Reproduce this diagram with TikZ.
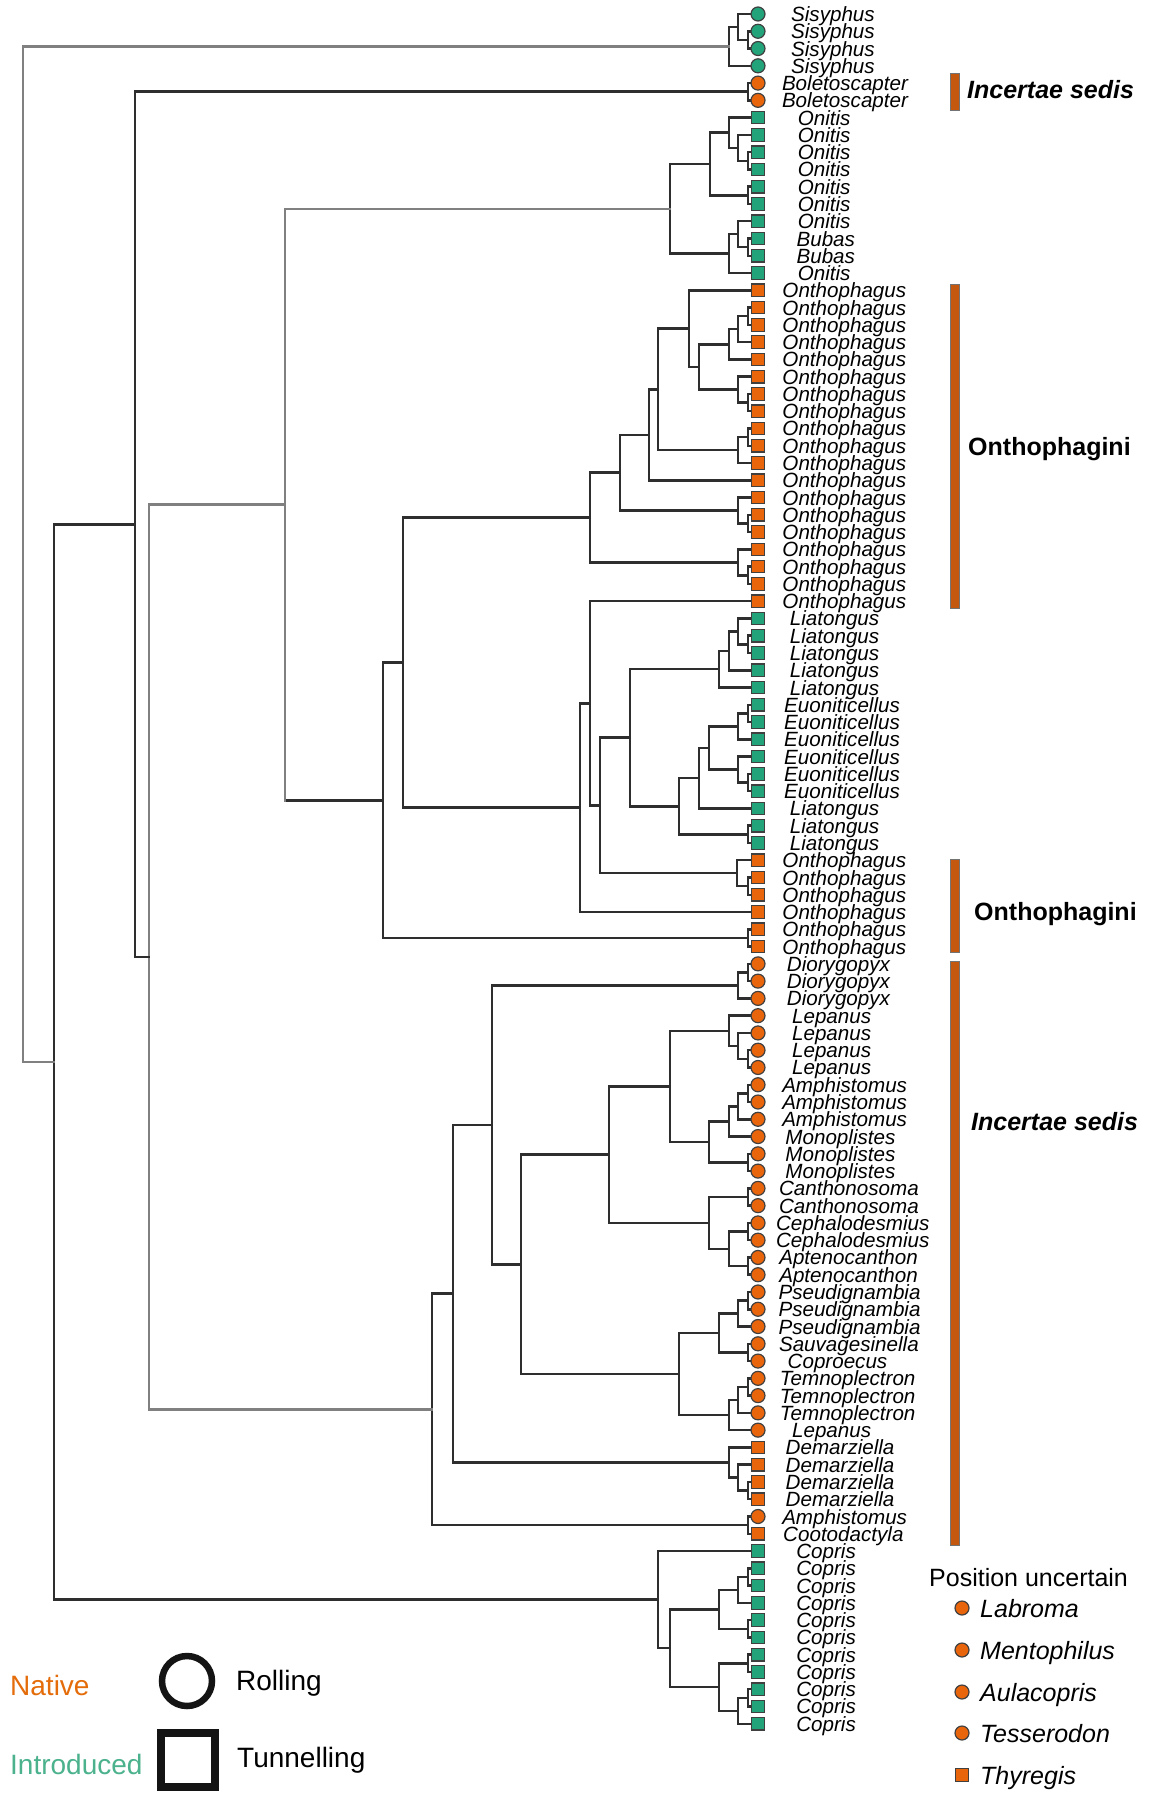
\documentclass[tikz,border=0pt]{standalone}
\usepackage{fontspec}
\setmainfont{Liberation Sans}
\usetikzlibrary{calc}
\definecolor{orng}{HTML}{E8650C}
\definecolor{grn}{HTML}{22A37A}
\definecolor{nattxt}{HTML}{E46C0A}
\definecolor{inttxt}{HTML}{4BB28D}
\definecolor{barc}{HTML}{C4580E}
\newcommand\jns[7]{%
  \path let \p1=($(#3)!.5!(#4)$) in coordinate (#1) at (#2pt,\y1);
  \draw[#5] (#3) -- (#3 -| #1);
  \draw[#6] (#4) -- (#4 -| #1);
  \draw[#7] (#3 -| #1) -- (#4 -| #1);}
\newcommand\jn[5][dk]{\jns{#2}{#3}{#4}{#5}{#1}{#1}{#1}}
\newcommand\tiplab[2]{\node[tl] (L#1) at (809,{14+17.27*(#1-1)+7.5}) {\setbox0=\hbox{#2}\kern-0.216\wd0\box0};}
\newcommand\tipm[2]{\node[#2] (M#1) at (t#1) {};}
\begin{document}
\begin{tikzpicture}[x=1pt,y=-1pt,
  dk/.style={draw=black!82, line width=2.5pt, line cap=rect},
  gy/.style={draw=black!50, line width=2.5pt, line cap=rect},
  tl/.style={anchor=base west, inner sep=0pt, font=\fontsize{20.6}{22}\selectfont\itshape},
  mc/.style={circle, minimum size=14pt, inner sep=0pt, draw=black!75, line width=1.2pt},
  ms/.style={rectangle, minimum size=12.5pt, inner sep=0pt, draw=black!75, line width=1.2pt},
  fo/.style={fill=orng}, fg/.style={fill=grn},
  barst/.style={rectangle, inner sep=0pt, minimum width=8.5pt, fill=barc, draw=black!55, line width=1pt},
  clab/.style={anchor=base west, inner sep=0pt, font=\fontsize{25}{27}\selectfont\bfseries},
  pl/.style={anchor=base west, inner sep=0pt, font=\fontsize{25}{27}\selectfont\itshape},
  lg/.style={anchor=base west, inner sep=0pt, font=\fontsize{28}{30}\selectfont}]
\fill[white] (0,0) rectangle (1150,1795);
\useasboundingbox (0,0) rectangle (1150,1795);
\foreach \i in {1,...,100} {\coordinate (t\i) at (758,{14+17.27*(\i-1)});}
% Sisyphus
\jn{s1}{748}{t2}{t3}
\jn{s2}{738}{t1}{s1}
\jn{s3}{729}{s2}{t4}
% Boletoscapter
\jn{b1}{748}{t5}{t6}
% Onitis
\jn{o1}{748}{t9}{t10}
\jn{o2}{738}{t8}{o1}
\jn{o3}{729}{t7}{o2}
\jn{o4}{748}{t11}{t12}
\jn{o5}{710}{o3}{o4}
\jn{o6}{748}{t14}{t15}
\jn{o7}{738}{t13}{o6}
\jn{o8}{729}{o7}{t16}
\jn{o9}{670}{o5}{o8}
% Onthophagus
\jn{p1}{748}{t18}{t19}
\jn{p2}{738}{p1}{t20}
\jn{p3}{729}{p2}{t21}
\jn{p4}{748}{t23}{t24}
\jn{p5}{738}{t22}{p4}
\jn{p6}{699}{p3}{p5}
\jn{p7}{689}{t17}{p6}
\jn{p8}{748}{t25}{t26}
\jn{p9}{738}{p8}{t27}
\jn{p10}{658}{p7}{p9}
\jn{p11}{649}{p10}{t28}
\jn{p12}{748}{t30}{t31}
\jn{p13}{738}{t29}{p12}
\jn{p14}{620}{p11}{p13}
\jn{p15}{748}{t33}{t34}
\jn{p16}{738}{t32}{p15}
\jn{p17}{590}{p14}{p16}
% Liatongus / Euoniticellus
\jn{l1}{748}{t37}{t38}
\jn{l2}{738}{t36}{l1}
\jn{l3}{729}{l2}{t39}
\jn{l4}{719}{l3}{t40}
\jn{e1}{748}{t41}{t42}
\jn{e2}{738}{e1}{t43}
\jn{e3}{748}{t45}{t46}
\jn{e4}{738}{t44}{e3}
\jn{e5}{709}{e2}{e4}
\jn{e6}{699}{e5}{t47}
\jn{e7}{748}{t48}{t49}
\jn{e8}{679}{e6}{e7}
\jn{e9}{630}{l4}{e8}
\jn{q1}{748}{t51}{t52}
\jn{q2}{737}{t50}{q1}
\jn{q3}{600}{e9}{q2}
\jn{q4}{590}{t35}{q3}
\jn{q5}{580}{q4}{t53}
\jn{q6}{403}{p17}{q5}
\jn{q7}{748}{t54}{t55}
\jn{q8}{383}{q6}{q7}
\jns{r1}{285}{o9}{q8}{gy}{dk}{gy}
% Australian natives
\jn{d1}{748}{t56}{t57}
\jn{d2}{738}{d1}{t58}
\jn{a1}{748}{t61}{t62}
\jn{a2}{738}{t60}{a1}
\jn{a3}{729}{t59}{a2}
\jn{a4}{748}{t63}{t64}
\jn{a5}{738}{a4}{t65}
\jn{a6}{729}{a5}{t66}
\jn{a7}{748}{t67}{t68}
\jn{a8}{709}{a6}{a7}
\jn{a9}{670}{a3}{a8}
\jn{c1}{748}{t69}{t70}
\jn{c2}{748}{t71}{t72}
\jn{c3}{748}{t73}{t74}
\jn{c4}{729}{c2}{c3}
\jn{c5}{709}{c1}{c4}
\jn{c6}{609}{a9}{c5}
\jn{u1}{748}{t75}{t76}
\jn{u2}{738}{u1}{t77}
\jn{u3}{748}{t78}{t79}
\jn{u4}{719}{u2}{u3}
\jn{u5}{748}{t80}{t81}
\jn{u6}{738}{u5}{t82}
\jn{u7}{729}{u6}{t83}
\jn{u8}{679}{u4}{u7}
\jn{u9}{521}{c6}{u8}
\jn{u10}{492}{d2}{u9}
\jn{m1}{748}{t86}{t87}
\jn{m2}{738}{t85}{m1}
\jn{m3}{729}{t84}{m2}
\jn{m4}{453}{u10}{m3}
\jn{m5}{748}{t88}{t89}
\jn{m6}{432}{m4}{m5}
% Copris
\jn{k1}{748}{t91}{t92}
\jn{k2}{738}{k1}{t93}
\jn{k3}{748}{t94}{t95}
\jn{k4}{719}{k2}{k3}
\jn{k5}{748}{t96}{t97}
\jn{k6}{748}{t98}{t99}
\jn{k7}{738}{k6}{t100}
\jn{k8}{719}{k5}{k7}
\jn{k9}{670}{k4}{k8}
\jn{k10}{658}{t90}{k9}
% deep nodes
\jn[gy]{g1}{149}{r1}{m6}
\jn{g2}{135}{b1}{g1}
\jn{g3}{54}{g2}{k10}
\jn[gy]{root}{23}{s3}{g3}
% tip markers
\foreach \i in {1,...,4} {\tipm{\i}{mc,fg}}
\foreach \i in {5,6} {\tipm{\i}{mc,fo}}
\foreach \i in {7,...,16} {\tipm{\i}{ms,fg}}
\foreach \i in {17,...,35} {\tipm{\i}{ms,fo}}
\foreach \i in {36,...,49} {\tipm{\i}{ms,fg}}
\foreach \i in {50,...,55} {\tipm{\i}{ms,fo}}
\foreach \i in {56,...,83} {\tipm{\i}{mc,fo}}
\foreach \i in {84,...,87} {\tipm{\i}{ms,fo}}
\tipm{88}{mc,fo}
\tipm{89}{ms,fo}
\foreach \i in {90,...,100} {\tipm{\i}{ms,fg}}
% tip labels
\foreach \i in {1,...,4} {\tiplab{\i}{Sisyphus}}
\foreach \i in {5,6} {\tiplab{\i}{Boletoscapter}}
\foreach \i in {7,...,13} {\tiplab{\i}{Onitis}}
\foreach \i in {14,15} {\tiplab{\i}{Bubas}}
\tiplab{16}{Onitis}
\foreach \i in {17,...,35} {\tiplab{\i}{Onthophagus}}
\foreach \i in {36,...,40} {\tiplab{\i}{Liatongus}}
\foreach \i in {41,...,46} {\tiplab{\i}{Euoniticellus}}
\foreach \i in {47,...,49} {\tiplab{\i}{Liatongus}}
\foreach \i in {50,...,55} {\tiplab{\i}{Onthophagus}}
\foreach \i in {56,...,58} {\tiplab{\i}{Diorygopyx}}
\foreach \i in {59,...,62} {\tiplab{\i}{Lepanus}}
\foreach \i in {63,...,65} {\tiplab{\i}{Amphistomus}}
\foreach \i in {66,...,68} {\tiplab{\i}{Monoplistes}}
\foreach \i in {69,70} {\tiplab{\i}{Canthonosoma}}
\foreach \i in {71,72} {\tiplab{\i}{Cephalodesmius}}
\foreach \i in {73,74} {\tiplab{\i}{Aptenocanthon}}
\foreach \i in {75,...,77} {\tiplab{\i}{Pseudignambia}}
\tiplab{78}{Sauvagesinella}
\tiplab{79}{Coproecus}
\foreach \i in {80,...,82} {\tiplab{\i}{Temnoplectron}}
\tiplab{83}{Lepanus}
\foreach \i in {84,...,87} {\tiplab{\i}{Demarziella}}
\tiplab{88}{Amphistomus}
\tiplab{89}{Cootodactyla}
\foreach \i in {90,...,100} {\tiplab{\i}{Copris}}
% clade bars
\node[barst, minimum height=36.5pt] (bar1) at (955,92.25) {};
\node[barst, minimum height=324pt] (bar2) at (955,446) {};
\node[barst, minimum height=93pt] (bar3) at (955,905.5) {};
\node[barst, minimum height=584pt] (bar4) at (955,1253) {};
\node[clab] (cl1) at (967,99) {\itshape Incertae sedis};
\node[clab] (cl2) at (968,455) {Onthophagini};
\node[clab] (cl3) at (974,920) {Onthophagini};
\node[clab] (cl4) at (971,1130) {\itshape Incertae sedis};
% position uncertain
\node[anchor=base west, inner sep=0pt, font=\fontsize{25}{27}\selectfont] (pu) at (929,1586) {Position uncertain};
\node[mc,fo] (pm1) at (962,1608) {};
\node[mc,fo] (pm2) at (962,1650) {};
\node[mc,fo] (pm3) at (962,1692) {};
\node[mc,fo] (pm4) at (962,1733) {};
\node[ms,fo] (pm5) at (962,1775) {};
\node[pl] (pt1) at (980,1617) {Labroma};
\node[pl] (pt2) at (980,1659) {Mentophilus};
\node[pl] (pt3) at (980,1701) {Aulacopris};
\node[pl] (pt4) at (980,1742) {Tesserodon};
\node[pl] (pt5) at (980,1784) {Thyregis};
% legend
\node[lg, text=nattxt] (nat) at (10,1695) {Native};
\node[lg, text=inttxt] (intr) at (10,1774) {Introduced};
\node[circle, draw=black!92, line width=6.5pt, minimum size=50pt, inner sep=0pt] (rollsym) at (187,1681) {};
\node[rectangle, draw=black!92, line width=7.5pt, minimum size=54pt, inner sep=0pt] (tunsym) at (188,1760) {};
\node[lg] (roll) at (236,1690) {Rolling};
\node[lg] (tun) at (237,1767) {Tunnelling};
\end{tikzpicture}
\end{document}
